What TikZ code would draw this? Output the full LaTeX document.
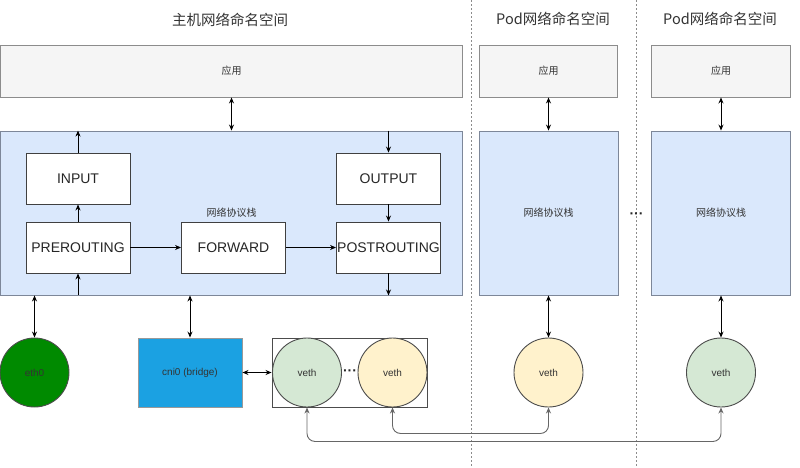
\documentclass[tikz,border=0pt]{standalone}
\usepackage{fontspec}
\setmainfont{Liberation Sans}
\newfontfamily\cjk{Noto Sans CJK SC}
\usetikzlibrary{arrows.meta,positioning}

\definecolor{appgray}{HTML}{F5F5F5}
\definecolor{stackblue}{HTML}{DAE8FC}
\definecolor{stackedge}{HTML}{7D8799}
\definecolor{vethgreen}{HTML}{D5E8D4}
\definecolor{vethyellow}{HTML}{FFF2CC}
\definecolor{ethgreen}{HTML}{008A00}
\definecolor{bridgeblue}{HTML}{1BA1E2}
\definecolor{labelgray}{HTML}{333333}

\tikzset{
  nstitle/.style={font=\cjk\fontsize{14.5}{16}\selectfont, text=labelgray},
  appbox/.style={draw=black!45, fill=appgray, minimum height=52,
    font=\cjk\fontsize{10}{12}\selectfont, text=labelgray},
  stackbox/.style={draw=stackedge, fill=stackblue, minimum height=164,
    font=\cjk\fontsize{10}{12}\selectfont, text=labelgray},
  chainbox/.style={draw=black!75, fill=white, minimum width=104, minimum height=51,
    inner xsep=0pt, font=\fontsize{14}{16}\selectfont, text=black!85},
  devcircle/.style={circle, draw=black!70, minimum size=69, inner sep=0pt,
    font=\fontsize{10}{12}\selectfont, text=labelgray},
  sepline/.style={draw=black!45, line width=0.8pt, dash pattern=on 2pt off 2pt},
  dotsep/.style={font=\bfseries\fontsize{14}{14}\selectfont, text=black!85, inner sep=0pt},
  link/.style={draw=black!60, rounded corners=8}
}

\begin{document}
\begin{tikzpicture}[x=1pt, y=-1pt, line width=0.9pt,
  >={Stealth[length=6pt,width=5pt]}]
  \useasboundingbox (0,0) rectangle (800,467);

  % namespace separators
  \draw[sepline] (471,0) -- (471,467);
  \draw[sepline] (636.5,0) -- (636.5,467);

  \node[nstitle] (thost) at (230,20) {主机网络命名空间};
  \node[nstitle] (tpod1) at (553,19) {Pod网络命名空间};
  \node[nstitle] (tpod2) at (720,19) {Pod网络命名空间};

  % applications
  \node[appbox, minimum width=462] (happ) at (231.5,71) {应用};
  \node[appbox, minimum width=138] (papp1) at (548.5,71) {应用};
  \node[appbox, minimum width=139] (papp2) at (721,71) {应用};

  % protocol stacks
  \node[stackbox, minimum width=462] (hstack) at (231.5,213) {网络协议栈};
  \node[stackbox, minimum width=139] (pstack1) at (548.5,213) {网络协议栈};
  \node[stackbox, minimum width=139] (pstack2) at (721,213) {网络协议栈};
  \node[dotsep] (pdots) at (636.5,216) {···};

  % netfilter chains
  \node[chainbox] (input) at (78,178.5) {INPUT};
  \node[chainbox] (pre) at (78,247.5) {PREROUTING};
  \node[chainbox] (fwd) at (233.5,247.5) {FORWARD};
  \node[chainbox] (output) at (388.5,178.5) {OUTPUT};
  \node[chainbox] (post) at (388.5,247.5) {POSTROUTING};

  % devices
  \node[devcircle, fill=ethgreen] (eth0) at (34.5,372.5) {eth0};
  \node[draw=black!40, fill=bridgeblue, minimum width=104, minimum height=69,
    font=\fontsize{10}{12}\selectfont, text=labelgray] (cni) at (190,372.5) {cni0 (bridge)};
  \node[draw=black!70, minimum width=155, minimum height=69] (vbox) at (349.5,372.5) {};
  \node[devcircle, fill=vethgreen] (hveth1) at (307,372.5) {veth};
  \node[devcircle, fill=vethyellow] (hveth2) at (392.5,372.5) {veth};
  \node[dotsep] (hdots) at (350,372.5) {···};
  \node[devcircle, fill=vethyellow] (pveth1) at (548.5,372.5) {veth};
  \node[devcircle, fill=vethgreen] (pveth2) at (721,372.5) {veth};

  % host namespace arrows
  \draw[<->] (happ.south) -- (hstack.north);
  \draw[->] (pre) -- (input);
  \draw[->] (input.north) -- (input.north |- hstack.north);
  \draw[->] (hstack.south -| pre.south) -- (pre.south);
  \draw[->] (pre) -- (fwd);
  \draw[->] (fwd) -- (post);
  \draw[->] (hstack.north -| output.north) -- (output.north);
  \draw[->] (output) -- (post);
  \draw[->] (post.south) -- (post.south |- hstack.south);
  \draw[<->] (hstack.south -| eth0.north) -- (eth0.north);
  \draw[<->] (hstack.south -| cni.north) -- (cni.north);
  \draw[<->] (cni.east) -- (vbox.west);

  % pod namespace arrows
  \draw[<->] (papp1.south) -- (pstack1.north);
  \draw[<->] (papp2.south) -- (pstack2.north);
  \draw[<->] (pstack1.south) -- (pveth1.north);
  \draw[<->] (pstack2.south) -- (pveth2.north);

  % veth pairs
  \draw[link, <->] (hveth1.south) -- ++(0,34) -| (pveth2.south);
  \draw[link, <->] (hveth2.south) -- ++(0,26) -| (pveth1.south);
\end{tikzpicture}
\end{document}
